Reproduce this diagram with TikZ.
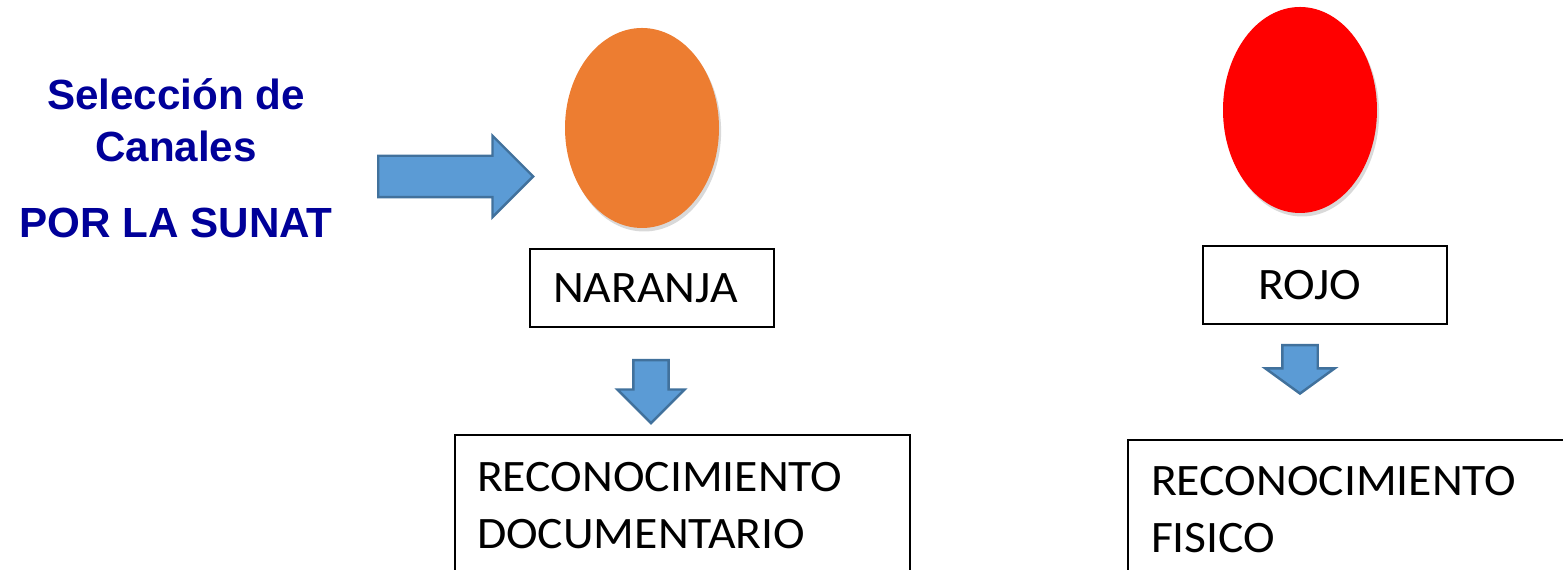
\documentclass[tikz,border=0pt]{standalone}
\usepackage{fontspec}
\setmainfont{Carlito}[FakeStretch=1.06]
\newfontfamily\arialfont{Liberation Sans}
\usetikzlibrary{
  shapes.geometric,
  shapes.arrows,
  shadows,
  positioning
}
\definecolor{azulsunat}{RGB}{0,0,153}
\definecolor{naranja}{RGB}{237,125,49}
\definecolor{azulflecha}{RGB}{91,155,213}
\definecolor{bordeflecha}{RGB}{65,113,156}

\begin{document}
\begin{tikzpicture}[
    canal/.style = {ellipse, minimum width=1.54cm, inner sep=0pt,
      drop shadow={shadow xshift=0.6pt, shadow yshift=-1pt, opacity=0.3}},
    etiqueta/.style = {rectangle, draw, line width=0.6pt, align=left,
      anchor=north west, font=\fontsize{12.8}{16.3}\selectfont},
    flecha/.style = {single arrow, fill=azulflecha, draw=bordeflecha,
      line width=0.7pt, single arrow head indent=0pt, anchor=tail}
  ]
  \useasboundingbox (0,0) rectangle (15.63,-5.70);
  \clip (0,0) rectangle (15.63,-5.70);

  \node[align=center, text=azulsunat,
    font=\arialfont\bfseries\fontsize{12}{14.8}\selectfont]
    (seleccion) at (1.76,-1.58) {Selección de\\Canales\\[0.24cm]POR LA SUNAT};

  \node[flecha, inner sep=0.195cm, minimum height=1.55cm,
    single arrow head extend=0.2cm] (flechacanal) at (3.77,-1.765) {};

  \node[canal, fill=naranja, minimum height=2.00cm] (ovalonaranja) at (6.42,-1.28) {};
  \node[canal, fill=red, minimum height=2.06cm] (ovalorojo) at (13.00,-1.10) {};

  \node[etiqueta, text width=1.98cm, inner xsep=0.23cm, minimum height=0.78cm]
    (naranja) at (5.29,-2.48) {NARANJA};
  \node[etiqueta, text width=1.34cm, inner xsep=0.55cm, minimum height=0.78cm]
    (rojo) at (12.02,-2.45) {ROJO};

  \node[flecha, shape border rotate=270, inner sep=0.165cm, minimum height=0.63cm,
    single arrow head extend=0.16cm] (flechanaranja) at (6.51,-3.59) {};
  \node[flecha, shape border rotate=270, inner sep=0.165cm, minimum height=0.47cm,
    single arrow head extend=0.17cm, single arrow tip angle=108] (flecharojo) at (13.00,-3.44) {};

  \node[etiqueta, text width=4.11cm, inner xsep=0.22cm, inner ysep=0.27cm]
    (documentario) at (4.54,-4.34) {RECONOCIMIENTO\\DOCUMENTARIO\rule[-0.6cm]{0pt}{1pt}};
  \node[etiqueta, text width=4.3cm, inner xsep=0.23cm, inner ysep=0.26cm]
    (fisico) at (11.27,-4.39) {RECONOCIMIENTO\\FISICO\rule[-0.6cm]{0pt}{1pt}};
\end{tikzpicture}
\end{document}
